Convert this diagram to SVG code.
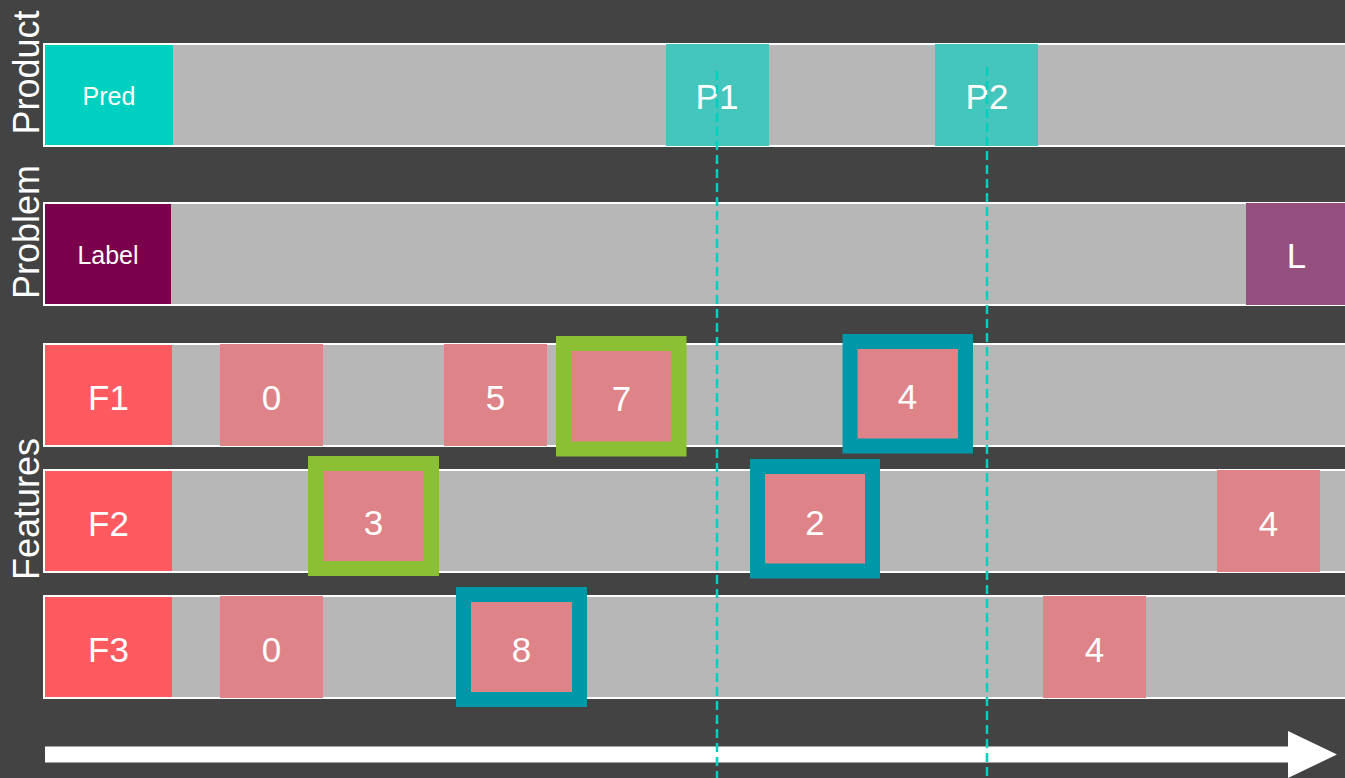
<svg xmlns="http://www.w3.org/2000/svg" width="1345" height="778" viewBox="0 0 1345 778">
<style>
.bar{fill:#b7b7b7;stroke:#ffffff;stroke-width:2}
.t{font-family:"Liberation Sans",Arial,sans-serif;fill:#ffffff;text-anchor:middle}
.big{font-size:35px}
.sm{font-size:25px}
.side{font-family:"Liberation Sans",Arial,sans-serif;fill:#ffffff;font-size:36px;text-anchor:middle}
.cell{fill:#de8387}
.gf{fill:#de8387;stroke:#8bc034;stroke-width:15}
.tf{fill:#de8387;stroke:#0098a8;stroke-width:15}
.dash{stroke:#00d0c0;stroke-width:2.5;stroke-dasharray:9 5;fill:none}
</style>
<rect width="1345" height="778" fill="#434343"/>
<g id="labels">
<text class="side" transform="translate(39,72.5) rotate(-90)">Product</text>
<text class="side" transform="translate(39,232) rotate(-90)">Problem</text>
<text class="side" transform="translate(39,509) rotate(-90)">Features</text>
</g>
<g id="row-product">
<rect class="bar" x="44" y="44" width="1310" height="102"/>
<rect x="45" y="45" width="128" height="100" fill="#00d0c0"/>
<text class="t sm" x="109" y="105">Pred</text>
<rect x="666" y="44" width="103" height="102" fill="#45c6bc"/>
<text class="t big" x="717" y="109">P1</text>
<rect x="935" y="44" width="103" height="102" fill="#45c6bc"/>
<text class="t big" x="987" y="109">P2</text>
</g>
<g id="row-problem">
<rect class="bar" x="44" y="203" width="1310" height="102"/>
<rect x="45" y="204" width="126" height="100" fill="#7a004b"/>
<text class="t sm" x="108" y="264">Label</text>
<rect x="1246" y="203" width="100" height="102" fill="#954f7e"/>
<text class="t big" x="1296.5" y="268">L</text>
</g>
<g id="row-f1">
<rect class="bar" x="44" y="344" width="1310" height="102"/>
<rect x="45" y="345" width="127" height="100" fill="#ff5a5f"/>
<text class="t big" x="108.5" y="409.5">F1</text>
<rect class="cell" x="220" y="344" width="103" height="102"/>
<text class="t big" x="271.5" y="409.5">0</text>
<rect class="cell" x="444" y="344" width="103" height="102"/>
<text class="t big" x="495.5" y="409.5">5</text>
<rect class="gf" x="563.5" y="343.5" width="115.5" height="105.5"/>
<text class="t big" x="621.5" y="410.5">7</text>
<rect class="tf" x="850" y="341.5" width="115.5" height="104.5"/>
<text class="t big" x="907.5" y="409">4</text>
</g>
<g id="row-f2">
<rect class="bar" x="44" y="470" width="1310" height="102"/>
<rect x="45" y="471" width="127" height="100" fill="#ff5a5f"/>
<text class="t big" x="108.5" y="535.5">F2</text>
<rect class="gf" x="315.5" y="463.5" width="116" height="105"/>
<text class="t big" x="373.5" y="535">3</text>
<rect class="tf" x="757.5" y="466.5" width="115" height="104.5"/>
<text class="t big" x="815" y="535">2</text>
<rect class="cell" x="1217" y="470" width="103" height="102"/>
<text class="t big" x="1268.5" y="535.5">4</text>
</g>
<g id="row-f3">
<rect class="bar" x="44" y="596" width="1310" height="102"/>
<rect x="45" y="597" width="127" height="100" fill="#ff5a5f"/>
<text class="t big" x="108.5" y="661.5">F3</text>
<rect class="cell" x="220" y="596" width="103" height="102"/>
<text class="t big" x="271.5" y="661.5">0</text>
<rect class="tf" x="463.5" y="594.5" width="116" height="105"/>
<text class="t big" x="521.5" y="662">8</text>
<rect class="cell" x="1043" y="596" width="103" height="102"/>
<text class="t big" x="1094.5" y="661.5">4</text>
</g>
<g id="arrow">
<polygon points="45,746.5 1288,746.5 1288,731 1337,754.5 1288,778 1288,762.5 45,762.5" fill="#ffffff"/>
</g>
<g id="connectors">
<line class="dash" x1="717" y1="71" x2="717" y2="778"/>
<line class="dash" x1="987" y1="67" x2="987" y2="778"/>
</g>
</svg>
